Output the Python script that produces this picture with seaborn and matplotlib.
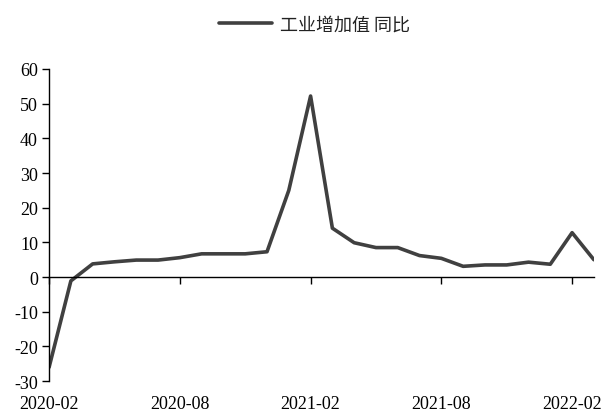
import matplotlib
matplotlib.use("Agg")
import matplotlib.pyplot as plt
import matplotlib.transforms as mtransforms
import seaborn as sns
import pandas as pd

months = ["2020-02", "2020-03", "2020-04", "2020-05", "2020-06", "2020-07",
          "2020-08", "2020-09", "2020-10", "2020-11", "2020-12", "2021-01",
          "2021-02", "2021-03", "2021-04", "2021-05", "2021-06", "2021-07",
          "2021-08", "2021-09", "2021-10", "2021-11", "2021-12", "2022-01",
          "2022-02", "2022-03"]
values = [-26.0, -1.1, 3.8, 4.4, 4.9, 4.9,
          5.6, 6.7, 6.7, 6.7, 7.3, 25.0,
          52.2, 14.1, 9.9, 8.5, 8.5, 6.2,
          5.4, 3.1, 3.5, 3.5, 4.3, 3.7,
          12.8, 5.0]
series_name = "工业增加值 同比"
tick_labels = ["2020-02", "2020-08", "2021-02", "2021-08", "2022-02"]

df = pd.DataFrame({"idx": range(len(months)), "month": months, "value": values,
                   "series": series_name})

sns.set_theme(style="white")
plt.rcParams["font.family"] = ["Liberation Serif", "Noto Sans CJK SC"]

fig = plt.figure(figsize=(6.06, 4.14), dpi=100)
ax = fig.add_axes([0.081, 0.077, 0.899, 0.754])

sns.lineplot(data=df, x="idx", y="value", hue="series", palette=["#404040"],
             linewidth=2.6, ax=ax)

ax.set_xlim(0, len(months) - 1)
ax.set_ylim(-30, 60)
ax.set_yticks(range(-30, 61, 10))
ax.set_yticklabels([str(v) for v in range(-30, 61, 10)], fontsize=13,
                   family="Liberation Serif")

for s in ["top", "right"]:
    ax.spines[s].set_visible(False)
ax.spines["bottom"].set_position(("data", 0))
for s in ["left", "bottom"]:
    ax.spines[s].set_color("black")
    ax.spines[s].set_linewidth(1.0)

tick_pos = [months.index(t) for t in tick_labels]
ax.set_xticks(tick_pos)
ax.set_xticklabels([])
ax.tick_params(axis="x", direction="out", length=5, width=1, color="black", bottom=True)
ax.tick_params(axis="y", direction="out", length=5, width=1, color="black", left=True,
               pad=3, labelcolor="black")
ax.set_xlabel("")
ax.set_ylabel("")

trans = mtransforms.blended_transform_factory(ax.transData, ax.transAxes)
for p, lab in zip(tick_pos, tick_labels):
    ax.text(p, -0.045, lab, transform=trans, ha="center", va="top", fontsize=13,
            family="Liberation Serif", color="black", clip_on=False)

leg = ax.legend(loc="center", frameon=False, handlelength=2.9, handletextpad=0.45,
                prop={"family": "Noto Sans CJK SC", "size": 13})
leg.set_bbox_to_anchor((0.519, 0.938), transform=fig.transFigure)
for t in leg.get_texts():
    t.set_color("#222222")

fig.savefig("out.png", dpi=100)
